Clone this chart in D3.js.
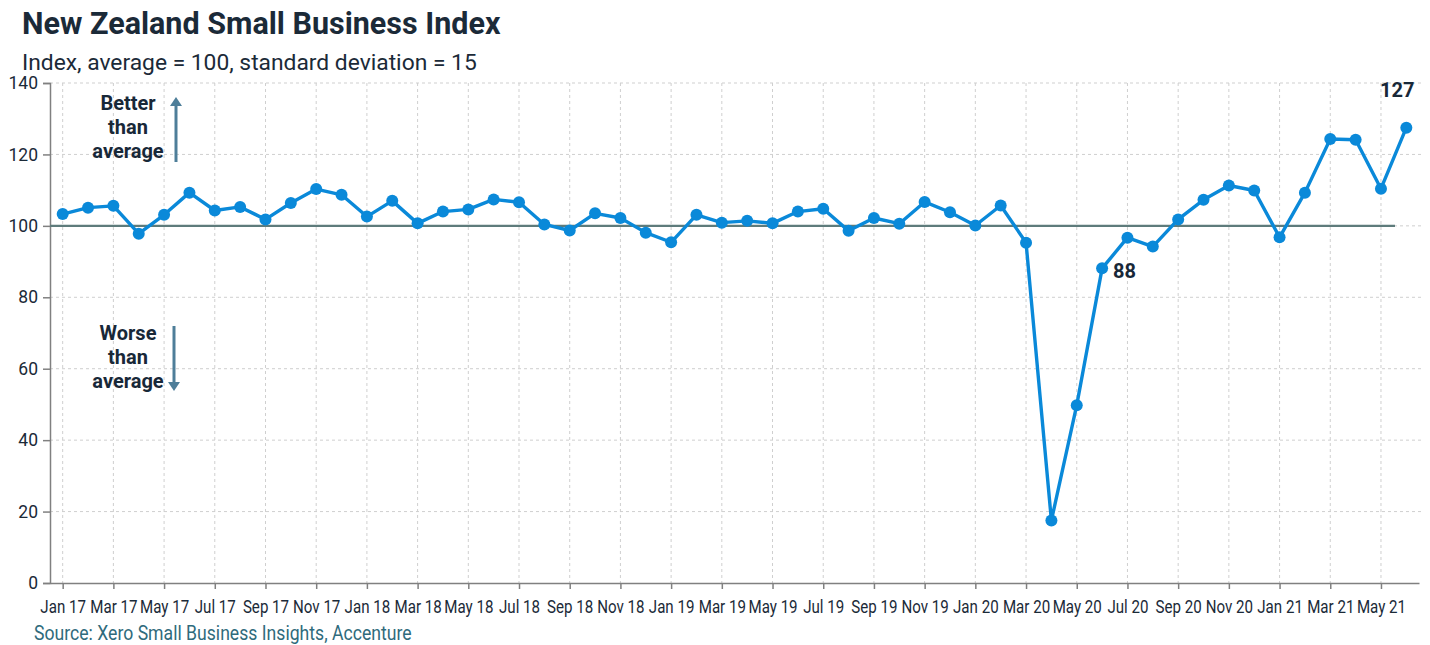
<!DOCTYPE html>
<html>
<head>
<meta charset="utf-8">
<script src="https://cdn.jsdelivr.net/npm/d3@7"></script>
<style>
  html, body { margin: 0; padding: 0; background: #fff; }
  svg { display: block; font-family: Roboto, "Noto Sans", sans-serif; }
</style>
</head>
<body>
<svg id="chart" width="1430" height="645"></svg>
<script>
const months = ["Jan 17","Feb 17","Mar 17","Apr 17","May 17","Jun 17","Jul 17","Aug 17","Sep 17","Oct 17","Nov 17","Dec 17",
  "Jan 18","Feb 18","Mar 18","Apr 18","May 18","Jun 18","Jul 18","Aug 18","Sep 18","Oct 18","Nov 18","Dec 18",
  "Jan 19","Feb 19","Mar 19","Apr 19","May 19","Jun 19","Jul 19","Aug 19","Sep 19","Oct 19","Nov 19","Dec 19",
  "Jan 20","Feb 20","Mar 20","Apr 20","May 20","Jun 20","Jul 20","Aug 20","Sep 20","Oct 20","Nov 20","Dec 20",
  "Jan 21","Feb 21","Mar 21","Apr 21","May 21","Jun 21"];
const indexValues = [103.3,105.1,105.6,97.8,103.1,109.3,104.3,105.3,101.8,106.4,110.3,108.7,
  102.6,107.0,100.7,104.0,104.6,107.4,106.6,100.4,98.7,103.5,102.2,98.1,
  95.4,103.1,100.9,101.4,100.7,104.0,104.8,98.6,102.2,100.6,106.7,103.8,
  100.1,105.7,95.3,17.5,49.8,88.1,96.7,94.2,101.8,107.3,111.3,109.9,
  96.8,109.3,124.3,124.1,110.4,127.5];
const yTicks = [0,20,40,60,80,100,120,140];
const xTickLabels = months.filter((d,i) => i % 2 === 0);
const average = 100;
const callouts = [{month:"Jun 20", text:"88"},{month:"Jun 21", text:"127"}];

(function(){
const svg = d3.select("#chart");
const mLeft = 50, mRight = 1419, mTop = 83, mBottom = 583;
const x = d3.scalePoint().domain(months).range([mLeft, mRight]).padding(0.5);
const y = d3.scaleLinear().domain([0,140]).range([mBottom, mTop]);

// Title
svg.append("text").attr("x",22).attr("y",34).attr("font-size",30.5).attr("font-weight",700)
  .attr("fill","#1b2a38").text("New Zealand Small Business Index");
svg.append("text").attr("x",22).attr("y",70).attr("font-size",22.8)
  .attr("fill","#1b2a38").text("Index, average = 100, standard deviation = 15");

// Grid
svg.append("g").selectAll("line").data(yTicks.filter(d=>d>0)).join("line")
  .attr("x1",mLeft).attr("x2",1421).attr("y1",d=>y(d)).attr("y2",d=>y(d))
  .attr("stroke","#cfcfcf").attr("stroke-width",1).attr("stroke-dasharray","3,3");
svg.append("g").selectAll("line").data(xTickLabels).join("line")
  .attr("x1",d=>x(d)).attr("x2",d=>x(d)).attr("y1",mTop).attr("y2",mBottom)
  .attr("stroke","#cfcfcf").attr("stroke-width",1).attr("stroke-dasharray","3,3");

// Y axis
const yAxis = svg.append("g").attr("transform",`translate(${mLeft},0)`)
  .call(d3.axisLeft(y).tickValues(yTicks).tickSize(7).tickPadding(5));
yAxis.select(".domain").attr("stroke","#808080").attr("stroke-width",1.5);
yAxis.selectAll(".tick line").attr("stroke","#808080").attr("stroke-width",1.5);
yAxis.selectAll(".tick text").attr("font-size",17.5).attr("fill","#1b2a38").attr("font-family","Roboto");

// X axis
const xAxis = svg.append("g").attr("transform",`translate(0,${mBottom})`)
  .call(d3.axisBottom(x).tickValues(xTickLabels).tickSize(6).tickSizeOuter(0).tickPadding(7));
xAxis.select(".domain").attr("stroke","#808080").attr("stroke-width",1.5);
xAxis.selectAll(".tick line").attr("stroke","#808080").attr("stroke-width",1.5);
xAxis.selectAll(".tick text").attr("font-size",18).attr("fill","#1b2a38").attr("font-family","Roboto")
  .attr("transform","scale(0.84,1)")
  .attr("dy","0.95em");

// Average line
svg.append("line").attr("x1",mLeft).attr("x2",1395).attr("y1",y(average)).attr("y2",y(average))
  .attr("stroke","#5e7b7b").attr("stroke-width",2.2);

// Annotations
const annoColor = "#182838", arrowColor = "#4e7e99";
function block(lines, cy0){
  svg.append("g").selectAll("text").data(lines).join("text")
    .attr("x",128).attr("y",(d,i)=>cy0 + i*24).attr("text-anchor","middle")
    .attr("font-size",20).attr("font-weight",700).attr("fill",annoColor).text(d=>d);
}
block(["Better","than","average"], 110);
block(["Worse","than","average"], 340);
// up arrow
svg.append("line").attr("x1",176).attr("x2",176).attr("y1",162).attr("y2",104)
  .attr("stroke",arrowColor).attr("stroke-width",3);
svg.append("path").attr("d","M170,106 L176,97 L182,106 Z").attr("fill",arrowColor);
// down arrow
svg.append("line").attr("x1",174).attr("x2",174).attr("y1",326).attr("y2",384)
  .attr("stroke",arrowColor).attr("stroke-width",3);
svg.append("path").attr("d","M168,382 L174,391 L180,382 Z").attr("fill",arrowColor);

// Series
const data = months.map((m,i)=>({m, v:indexValues[i]}));
svg.append("path").datum(data)
  .attr("d", d3.line().x(d=>x(d.m)).y(d=>y(d.v)))
  .attr("fill","none").attr("stroke","#0a89d9").attr("stroke-width",3.4).attr("stroke-linejoin","round");
svg.append("g").selectAll("circle").data(data).join("circle")
  .attr("cx",d=>x(d.m)).attr("cy",d=>y(d.v)).attr("r",6).attr("fill","#0a89d9");

// Callouts
const c0 = callouts[0], c1 = callouts[1];
svg.append("text").attr("x",x(c0.month)+11).attr("y",y(indexValues[months.indexOf(c0.month)])+10)
  .attr("font-size",20).attr("font-weight",700).attr("fill",annoColor).text(c0.text);
svg.append("text").attr("x",x(c1.month)-9).attr("y",97).attr("text-anchor","middle")
  .attr("font-size",20).attr("font-weight",700).attr("fill",annoColor).text(c1.text);

// Source
svg.append("text").attr("transform","translate(34,640) scale(0.86,1)")
  .attr("font-size",20.5).attr("fill","#2f6b7c").text("Source: Xero Small Business Insights, Accenture");
})();
</script>
</body>
</html>
